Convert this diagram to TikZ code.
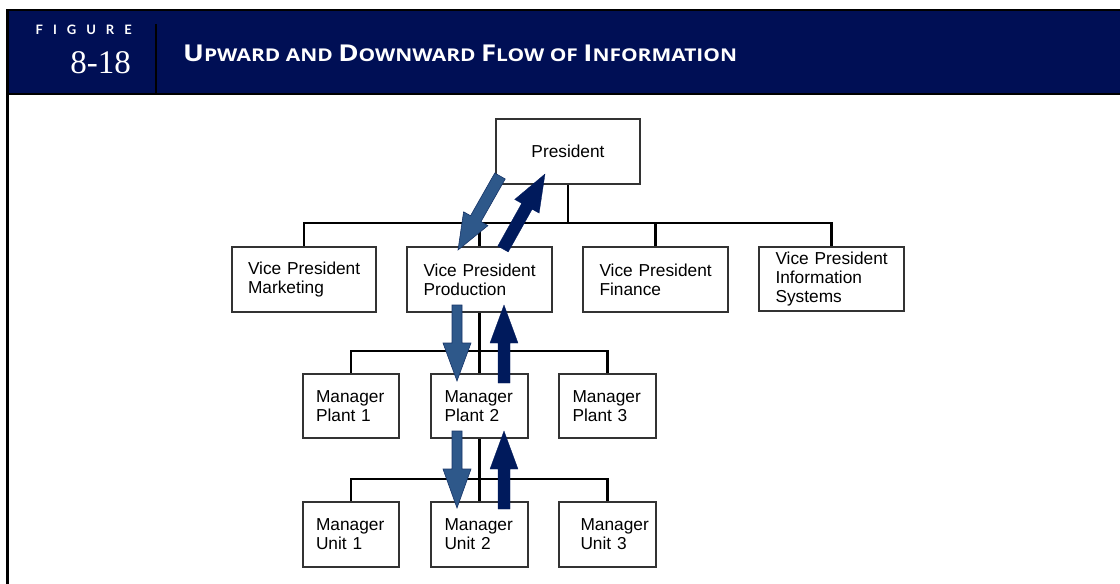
\documentclass[tikz,border=0pt]{standalone}
\usepackage{graphicx}
\usepackage{fontspec}
\setmainfont{Liberation Sans}
\newfontfamily\boxfamily{Liberation Sans}
\newfontfamily\headfamily{Open Sans}[UprightFont=* Bold]
\newfontfamily\figfamily{Lato}[UprightFont=* Bold]
\newfontfamily\numfamily{Liberation Serif}
\usetikzlibrary{calc}
\definecolor{headnavy}{RGB}{0,15,85}
\definecolor{downblue}{RGB}{46,88,138}
\definecolor{downedge}{RGB}{22,52,104}
\definecolor{upnavy}{RGB}{0,26,92}
\newcommand\BigSmall[2]{{\fontsize{23.2}{23}\selectfont #1}{\fontsize{17.6}{17.6}\selectfont #2}}
\newcommand\FatArrow[6]{%
  \coordinate (hb) at ($(#3)!#6!(#2)$);
  \filldraw[#1] ($(#2)!#4!90:(#3)$) -- ($(hb)!#4!90:(#3)$) -- ($(hb)!#5!90:(#3)$)
    -- (#3) -- ($(hb)!#5!-90:(#3)$) -- ($(hb)!#4!-90:(#3)$) -- ($(#2)!#4!-90:(#3)$) -- cycle;}
\tikzset{
  box/.style={draw=black!80, line width=1.1pt, fill=white, inner xsep=0pt, inner ysep=0pt,
    minimum height=64pt, align=left, font=\boxfamily\fontsize{17.3}{19}\selectfont},
  vpbox/.style={box, minimum width=144pt, text width=112pt},
  mgrbox/.style={box, minimum width=96pt, text width=70pt},
  conn/.style={draw=black, line width=2.4pt},
  downarrow/.style={fill=downblue, draw=downedge, line width=0.6pt, line join=miter},
  uparrow/.style={fill=upnavy, draw=upnavy, line width=0.3pt, line join=miter}
}
\begin{document}
\begin{tikzpicture}[x=1pt, y=-1pt]
\useasboundingbox (0,0) rectangle (1120,584);
% header
\fill[headnavy] (8,10) rectangle (1120,93);
\draw[line width=2pt] (6,10) -- (1120,10);
\draw[line width=2.5pt] (6,94) -- (1120,94);
\draw[line width=2.5pt] (7.5,9) -- (7.5,584);
\draw[line width=2.3pt] (156,24) -- (156,93);
\node[anchor=base east, inner sep=0, text=white, font=\figfamily\fontsize{13}{13}\selectfont] (figlbl) at (132,34)
  {F\hspace{10pt}I\hspace{10pt}G\hspace{10pt}U\hspace{10pt}R\hspace{10pt}E};
\node[anchor=base east, inner sep=0, text=white, font=\numfamily\fontsize{33}{33}\selectfont] (fignum) at (131,73) {8-18};
\node[anchor=base west, inner sep=0, text=white, font=\headfamily] (title) at (183,61)
  {\scalebox{1.19}[1]{\BigSmall{U}{PWARD AND }\BigSmall{D}{OWNWARD }\BigSmall{F}{LOW OF }\BigSmall{I}{NFORMATION}}};
% nodes
\node[box, minimum width=144pt, align=center] (pres) at (568,151.5) {President};
\node[vpbox] (mkt) at (304,279.5) {\mbox{Vice President}\\Marketing};
\node[vpbox] (prod) at (479.5,279.5) {\mbox{Vice President}\\Production};
\node[vpbox] (fin) at (655.5,279.5) {\mbox{Vice President}\\Finance};
\node[vpbox] (info) at (831.5,279) {\mbox{Vice President}\\Information\\Systems};
\node[mgrbox] (p1) at (351,406) {Manager\\Plant 1};
\node[mgrbox] (p2) at (479.5,406) {Manager\\Plant 2};
\node[mgrbox] (p3) at (607.5,406) {Manager\\Plant 3};
\node[mgrbox] (u1) at (351,534.5) {Manager\\Unit 1};
\node[mgrbox] (u2) at (479.5,534.5) {Manager\\Unit 2};
\node[mgrbox, text width=54pt] (u3) at (607.5,534.5) {\mbox{Manager}\\Unit 3};
% connectors
\coordinate (bus1) at (568,223);
\coordinate (bus2) at (479.5,351);
\coordinate (bus3) at (479.5,479);
\draw[conn] (pres.south) -- (bus1);
\draw[conn] (mkt.north) |- (bus1);
\draw[conn] (info.north) |- (bus1);
\draw[conn] (prod.north) -- (prod.north |- bus1);
\draw[conn] (fin.north) -- (fin.north |- bus1);
\draw[conn] (prod.south) -- (p2.north);
\draw[conn] (p1.north) |- (bus2);
\draw[conn] (p3.north) |- (bus2);
\draw[conn] (p2.south) -- (u2.north);
\draw[conn] (u1.north) |- (bus3);
\draw[conn] (u3.north) |- (bus3);
% redraw box borders over connector ends
\foreach \n in {pres,mkt,prod,fin,info,p1,p2,p3,u1,u2,u3}{\draw[black!80, line width=1.1pt] (\n.north west) rectangle (\n.south east);}
% flow arrows
\coordinate (a1t) at (500,176); \coordinate (a1h) at (458,250);
\coordinate (a2t) at (503,249); \coordinate (a2h) at (545,174);
\coordinate (a3t) at (457,305); \coordinate (a3h) at (457,381);
\coordinate (a4t) at (504,383); \coordinate (a4h) at (504,305);
\coordinate (a5t) at (457,431); \coordinate (a5h) at (457,508);
\coordinate (a6t) at (504,509); \coordinate (a6h) at (504,431);
\FatArrow{downarrow}{a1t}{a1h}{6pt}{14pt}{36pt}
\FatArrow{uparrow}{a2t}{a2h}{6pt}{14pt}{37pt}
\FatArrow{downarrow}{a3t}{a3h}{5pt}{14pt}{38pt}
\FatArrow{uparrow}{a4t}{a4h}{6pt}{14pt}{38pt}
\FatArrow{downarrow}{a5t}{a5h}{5pt}{14pt}{39pt}
\FatArrow{uparrow}{a6t}{a6h}{6pt}{14pt}{38pt}
\end{tikzpicture}
\end{document}
